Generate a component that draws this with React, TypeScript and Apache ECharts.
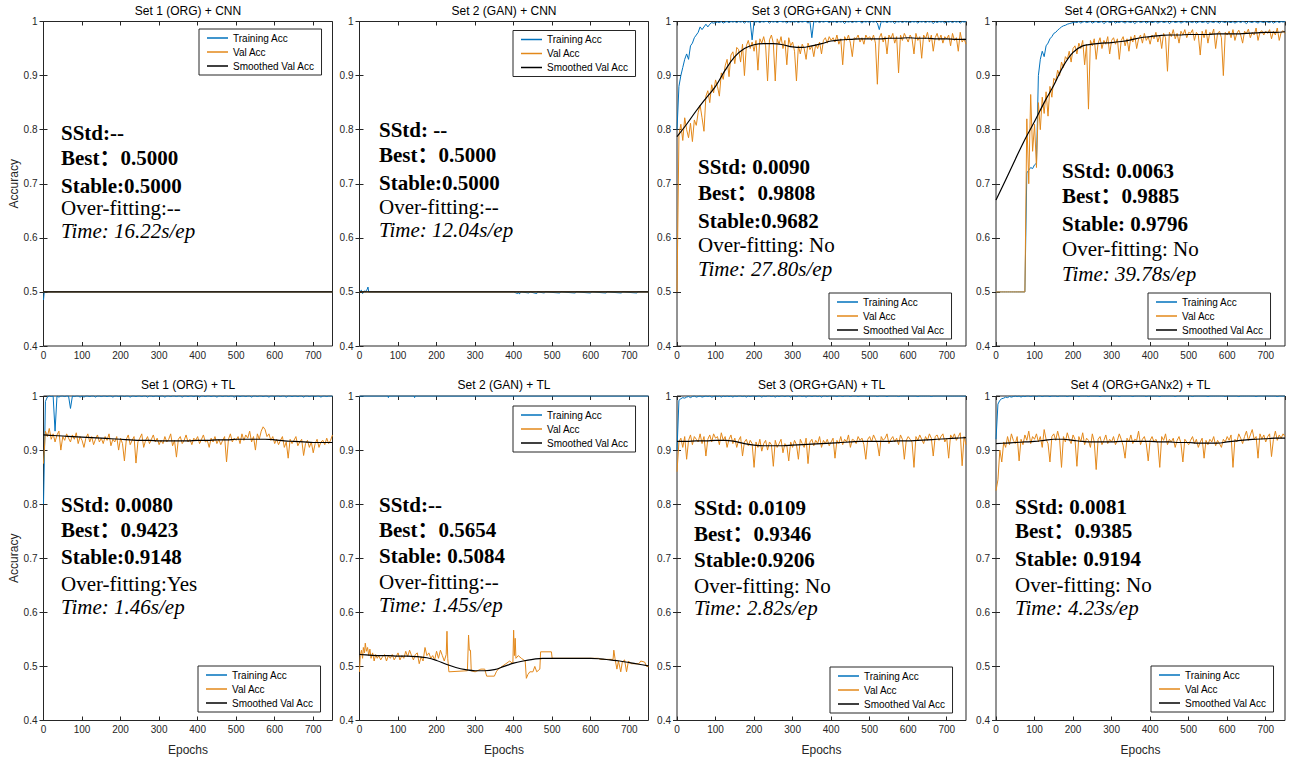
import React, { useEffect, useRef } from "react";
import * as echarts from "echarts";

// ---------------- data ----------------
const SERIES_NAMES = ["Training Acc", "Val Acc", "Smoothed Val Acc"];
const TITLES = [
  "Set 1 (ORG) + CNN",
  "Set 2 (GAN) + CNN",
  "Set 3 (ORG+GAN) + CNN",
  "Set 4 (ORG+GANx2) + CNN",
  "Set 1 (ORG) + TL",
  "Set 2 (GAN) + TL",
  "Set 3 (ORG+GAN) + TL",
  "Set 4 (ORG+GANx2) + TL",
];
const X_MIN = 0;
const X_MAX = 750;
const X_INTERVAL = 100;
const Y_MIN = 0.4;
const Y_MAX = 1;
const Y_INTERVAL = 0.1;
const DENSE_STEP = 5; // epochs between values of the dense arrays (x1000 accuracy)
const SMOOTH_STEP = 25; // epochs between values of the smoothed arrays

// Panel 1 – Set 1 (ORG) + CNN  ([epoch, accuracy x1000] points)
const P1_TRAIN = [[0, 485], [2, 500], [750, 500]];
const P1_VAL = [[0, 500], [750, 500]];
const P1_SMOOTH = [[0, 500], [750, 500]];

// Panel 2 – Set 2 (GAN) + CNN
const P2_TRAIN = [
  [0, 500], [5, 503], [8, 497], [12, 502], [15, 500], [20, 505], [22, 509], [24, 500],
  [400, 500], [410, 497], [412, 500], [415, 496], [418, 500], [440, 498], [442, 500],
  [460, 497], [462, 500], [480, 498], [482, 500], [520, 498], [522, 500], [560, 498],
  [562, 500], [600, 498], [602, 500], [640, 498], [642, 500], [680, 498], [682, 500],
  [720, 498], [722, 500], [750, 500],
];
const P2_VAL = [[0, 500], [750, 500]];
const P2_SMOOTH = [[0, 500], [750, 500]];

// Panel 3 – Set 3 (ORG+GAN) + CNN (every 5 epochs)
const P3_TRAIN = [
  800, 880, 900, 915, 930, 940, 930, 955, 960, 970, 975, 980, 990, 985, 990, 995, 990, 995, 998, 997, 998,
  999, 998, 1000, 997, 999, 1000, 998, 1000, 999, 1000, 998, 1000, 999, 1000, 997, 1000, 999, 1000, 966, 1000,
  999, 1000, 998, 1000, 999, 1000, 1000, 997, 1000, 999, 1000, 998, 1000, 1000, 999, 1000, 997, 1000, 999, 1000,
  999, 1000, 998, 1000, 999, 1000, 1000, 997, 1000, 970, 1000, 999, 1000, 998, 1000, 999, 1000, 1000, 998, 1000,
  999, 1000, 998, 1000, 999, 1000, 996, 1000, 999, 1000, 998, 1000, 999, 1000, 1000, 997, 1000, 999, 1000, 998,
  1000, 999, 1000, 997, 985, 1000, 999, 1000, 998, 1000, 999, 1000, 996, 1000, 999, 1000, 998, 1000, 999, 1000,
  998, 1000, 999, 1000, 997, 1000, 999, 1000, 998, 1000, 999, 1000, 996, 1000, 998, 1000, 999, 1000, 997, 1000,
  999, 1000, 998, 1000, 999, 1000, 997, 1000, 999, 1000,
];
const P3_VAL = [
  500, 790, 810, 780, 822, 800, 785, 812, 778, 818, 808, 832, 845, 822, 797, 862, 872, 850, 883, 868, 892,
  880, 862, 905, 893, 918, 930, 898, 938, 944, 922, 952, 948, 925, 958, 900, 955, 965, 950, 962, 945,
  965, 910, 968, 960, 972, 955, 890, 966, 975, 960, 890, 968, 958, 972, 950, 965, 920, 970, 955, 962,
  945, 890, 955, 940, 958, 950, 930, 960, 948, 955, 935, 958, 950, 962, 940, 965, 970, 960, 972, 965,
  970, 962, 975, 958, 968, 920, 972, 965, 975, 960, 935, 970, 968, 975, 962, 970, 958, 975, 968, 972,
  965, 975, 960, 884, 970, 978, 962, 972, 940, 975, 968, 978, 960, 972, 905, 975, 965, 978, 970, 962,
  975, 968, 940, 978, 965, 972, 932, 975, 968, 980, 962, 975, 945, 970, 978, 965, 975, 960, 972, 968,
  975, 955, 978, 965, 970, 945, 980, 962, 968, 958,
];
const P3_SMOOTH = [
  787, 810, 835, 858, 880, 910, 935, 950, 957, 959, 959, 957, 953, 952, 955, 959,
  964, 966, 967, 968, 968, 968, 969, 969, 970, 969, 969, 968, 968, 967, 967,
];

// Panel 4 – Set 4 (ORG+GANx2) + CNN
const P4_TRAIN = [
  500, 500, 500, 500, 500, 500, 500, 500, 500, 500, 500, 500, 500, 500, 500, 500,
  720, 725, 730, 728, 735,
  738, 900, 930, 945, 935, 955, 960, 968, 972, 978,
  980, 984, 987, 990, 992, 993, 995, 996, 997, 998,
  999, 998, 1000, 997, 999, 1000, 998, 999, 1000, 997, 999, 1000, 998, 999, 1000, 996, 999, 1000, 998, 999,
  1000, 997, 999, 998, 1000, 999, 997, 1000, 999, 998, 1000, 996, 999, 1000, 998, 999, 1000, 997, 999, 1000,
  998, 999, 1000, 997, 999, 1000, 998, 999, 1000, 996, 999, 1000, 998, 999, 1000, 997, 999, 1000, 998, 1000,
  999, 998, 1000, 997, 999, 1000, 998, 999, 1000, 996, 1000, 999, 998, 1000, 999, 997, 1000, 999, 998, 1000,
  999, 998, 1000, 997, 999, 1000, 998, 1000, 999, 996, 1000, 999, 998, 1000, 999, 997, 1000, 999, 998, 1000,
  999, 998, 1000, 997, 999, 1000, 998, 1000, 999, 1000,
];
const P4_VAL = [
  500, 500, 500, 500, 500, 500, 500, 500, 500, 500, 500, 500, 500, 500, 500, 500,
  820, 700, 865, 760, 810,
  730, 850, 800, 860, 830, 870, 825, 880, 860, 895,
  890, 910, 900, 925, 915, 935, 930, 945, 925, 950,
  955, 940, 960, 950, 965, 920, 958, 838, 965, 955, 968, 930, 960, 970, 950, 965, 958, 972, 940, 965,
  970, 958, 968, 930, 965, 972, 955, 968, 945, 972, 962, 975, 950, 968, 975, 960, 978, 965, 972, 958,
  975, 968, 980, 962, 975, 950, 978, 970, 908, 980, 972, 985, 968, 978, 960, 982, 975, 985, 970, 980,
  978, 985, 965, 980, 975, 938, 982, 970, 985, 960, 980, 975, 986, 950, 978, 982, 970, 900, 980, 975,
  982, 970, 985, 965, 978, 984, 975, 960, 982, 978, 986, 970, 980, 975, 988, 965, 980, 983, 975, 982,
  978, 985, 968, 982, 975, 988, 965, 980, 983, 978,
];
const P4_SMOOTH = [
  670, 707, 745, 782, 815, 850, 882, 918, 943, 955, 958, 960, 961, 963, 966, 970,
  972, 974, 975, 975, 976, 976, 976, 977, 977, 977, 978, 979, 980, 980, 981,
];

// Panel 5 – Set 1 (ORG) + TL
const P5_TRAIN = [
  800, 990, 998, 1000, 999, 1000, 935, 1000, 998, 1000, 1000, 999, 1000, 1000, 977, 1000, 999, 1000, 1000, 998, 1000,
  998, 1000, 1000, 999, 1000, 1000, 998, 1000, 1000, 999, 1000, 1000, 999, 1000, 1000, 998, 1000, 1000, 999, 1000,
  1000, 999, 1000, 1000, 998, 1000, 1000, 999, 1000, 1000, 999, 1000, 1000, 998, 1000, 1000, 999, 1000, 1000, 999,
  1000, 1000, 998, 1000, 1000, 999, 1000, 1000, 999, 1000, 1000, 998, 1000, 1000, 999, 1000, 1000, 999, 1000, 1000,
  998, 1000, 1000, 999, 1000, 1000, 999, 1000, 1000, 998, 1000, 1000, 999, 1000, 1000, 999, 1000, 1000, 998, 1000,
  1000, 999, 1000, 1000, 999, 1000, 1000, 998, 1000, 1000, 999, 1000, 1000, 999, 1000, 1000, 998, 1000, 1000, 999,
  1000, 1000, 999, 1000, 1000, 998, 1000, 1000, 999, 1000, 1000, 999, 1000, 1000, 998, 1000, 1000, 999, 1000, 1000,
  999, 1000, 1000, 998, 1000, 1000, 999, 1000, 1000, 1000,
];
const P5_VAL = [
  875, 935, 925, 940, 920, 930, 915, 928, 935, 900, 925, 918, 930, 922, 915, 928, 920, 932, 912, 925, 918,
  905, 922, 930, 915, 925, 910, 920, 928, 915, 922, 912, 925, 918, 930, 908, 920, 915, 925, 900, 922,
  912, 880, 920, 928, 910, 918, 925, 876, 915, 922, 930, 905, 918, 925, 912, 920, 928, 915, 922, 910,
  918, 912, 925, 915, 920, 930, 908, 918, 887, 920, 925, 912, 918, 928, 915, 920, 910, 922, 918, 925,
  912, 920, 928, 915, 918, 905, 922, 915, 925, 912, 920, 910, 918, 925, 878, 920, 930, 915, 922, 918,
  925, 912, 930, 918, 928, 922, 935, 915, 925, 900, 930, 920, 935, 943, 938, 925, 930, 918, 925, 912,
  920, 910, 918, 925, 905, 915, 885, 920, 912, 918, 925, 908, 915, 920, 890, 912, 918, 905, 915, 895,
  912, 920, 905, 915, 918, 910, 922, 912, 918, 928,
];
const P5_SMOOTH = [
  928, 927, 926, 925, 924, 923, 922, 921, 920, 919, 918, 918, 917, 917, 917, 917,
  918, 918, 919, 919, 920, 920, 920, 920, 919, 917, 916, 915, 914, 914, 914,
];

// Panel 6 – Set 2 (GAN) + TL
const P6_TRAIN = [
  [0, 998], [2, 1000], [74, 1000], [75, 997], [76, 1000], [142, 1000], [143, 997], [144, 1000], [750, 1000],
];
const P6_VAL = [
  [0, 490], [2, 520], [5, 530], [8, 515], [10, 535], [13, 525], [15, 543], [18, 528], [21, 535], [24, 520],
  [27, 532], [30, 515], [34, 525], [38, 510], [42, 522], [46, 515], [50, 520], [55, 512], [60, 518], [65, 522],
  [70, 510], [75, 520], [80, 515], [85, 522], [90, 512], [95, 518], [100, 525], [105, 512], [110, 520], [115, 515],
  [120, 528], [125, 518], [130, 530], [135, 520], [140, 512], [145, 522], [150, 525], [155, 505], [160, 518],
  [165, 510], [170, 535], [175, 520], [180, 525], [185, 515], [190, 520], [195, 512], [200, 528], [205, 515],
  [210, 530], [215, 520], [220, 510], [225, 522], [227, 565], [229, 515], [232, 490], [280, 492], [283, 558],
  [285, 530], [288, 530], [290, 492], [300, 490], [315, 495], [325, 495], [330, 482], [350, 482], [355, 490],
  [360, 495], [370, 500], [380, 505], [390, 510], [398, 505], [400, 567], [402, 520], [404, 552], [406, 515],
  [412, 520], [420, 515], [430, 510], [433, 478], [437, 485], [442, 490], [450, 490], [455, 500], [460, 490],
  [468, 495], [470, 527], [498, 527], [500, 515], [620, 515], [625, 513], [658, 513], [660, 530], [663, 515],
  [668, 495], [672, 510], [678, 490], [682, 508], [688, 512], [693, 490], [698, 510], [705, 505], [725, 505],
  [730, 510], [740, 508], [745, 500], [750, 500],
];
const P6_SMOOTH = [
  522, 521, 520, 520, 519, 519, 518, 516, 511, 504, 498, 494, 492, 492, 494, 500,
  506, 510, 513, 515, 515, 515, 515, 515, 515, 514, 512, 510, 507, 504, 501,
];

// Panel 7 – Set 3 (ORG+GAN) + TL
const P7_TRAIN = [
  900, 992, 995, 997, 996, 998, 999, 997, 999, 1000, 998, 999, 1000, 998, 999, 1000, 999, 1000, 998, 999, 1000,
  999, 1000, 998, 1000, 999, 1000, 999, 1000, 998, 1000, 999, 1000, 1000, 999, 1000, 998, 1000, 999, 1000, 1000,
  999, 1000, 1000, 998, 1000, 999, 1000, 1000, 999, 1000, 998, 1000, 999, 1000, 1000, 999, 1000, 1000, 998, 1000,
  1000, 999, 1000, 1000, 999, 1000, 998, 1000, 1000, 999, 1000, 1000, 999, 1000, 998, 1000, 1000, 999, 1000, 1000,
  1000, 1000, 999, 1000, 1000, 999, 1000, 1000, 1000, 999, 1000, 1000, 1000, 999, 1000, 1000, 1000, 1000, 999, 1000,
  1000, 1000, 1000, 999, 1000, 1000, 1000, 1000, 999, 1000, 1000, 1000, 1000, 1000, 999, 1000, 1000, 1000, 1000, 1000,
  1000, 1000, 1000, 1000, 999, 1000, 1000, 1000, 1000, 1000, 1000, 999, 1000, 1000, 1000, 1000, 1000, 1000, 1000, 1000,
  1000, 1000, 1000, 1000, 1000, 1000, 1000, 1000, 1000, 1000,
];
const P7_VAL = [
  860, 915, 922, 905, 925, 883, 918, 928, 910, 925, 920, 915, 930, 912, 925, 889, 920, 928, 915, 930, 922,
  925, 910, 932, 918, 925, 905, 920, 928, 912, 922, 905, 918, 925, 889, 915, 920, 908, 918, 912, 868,
  915, 905, 920, 898, 912, 918, 900, 915, 910, 870, 918, 905, 912, 920, 895, 912, 908, 880, 915, 905,
  918, 910, 883, 920, 912, 905, 922, 875, 915, 920, 908, 918, 912, 925, 905, 918, 912, 920, 908, 915,
  922, 885, 918, 912, 925, 910, 920, 915, 928, 905, 920, 918, 912, 925, 918, 922, 910, 883, 920, 925,
  915, 928, 920, 912, 889, 925, 918, 922, 930, 912, 920, 925, 915, 922, 910, 928, 920, 883, 918, 925,
  920, 915, 868, 925, 918, 928, 920, 912, 925, 918, 930, 922, 889, 925, 928, 918, 925, 930, 915, 922,
  885, 928, 922, 930, 918, 925, 932, 871, 925, 910,
];
const P7_SMOOTH = [
  916, 916, 917, 917, 918, 918, 916, 912, 909, 908, 908, 908, 909, 910, 911, 912,
  913, 914, 915, 916, 916, 916, 916, 917, 917, 918, 919, 920, 921, 922, 923,
];

// Panel 8 – Set 4 (ORG+GANx2) + TL
const P8_TRAIN = [
  920, 985, 992, 995, 996, 998, 997, 999, 998, 999, 1000, 999, 1000, 998, 1000, 999, 1000, 1000, 999, 1000, 1000,
  999, 1000, 1000, 999, 1000, 1000, 1000, 999, 1000, 1000, 1000, 999, 1000, 1000, 1000, 1000, 999, 1000, 1000, 1000,
  1000, 1000, 999, 1000, 1000, 1000, 1000, 999, 1000, 1000, 1000, 1000, 1000, 999, 1000, 1000, 1000, 1000, 1000, 1000,
  1000, 1000, 1000, 999, 1000, 1000, 1000, 1000, 1000, 1000, 999, 1000, 1000, 1000, 1000, 1000, 1000, 999, 1000, 1000,
  1000, 1000, 1000, 1000, 999, 1000, 1000, 1000, 1000, 1000, 1000, 1000, 999, 1000, 1000, 1000, 1000, 1000, 1000, 1000,
  1000, 999, 1000, 1000, 1000, 1000, 1000, 1000, 1000, 999, 1000, 1000, 1000, 1000, 1000, 1000, 1000, 1000, 999, 1000,
  1000, 1000, 1000, 1000, 1000, 999, 1000, 1000, 1000, 1000, 1000, 1000, 1000, 1000, 999, 1000, 1000, 1000, 1000, 1000,
  1000, 1000, 1000, 1000, 1000, 999, 1000, 1000, 1000, 1000,
];
const P8_VAL = [
  825, 845, 900, 878, 915, 905, 925, 910, 930, 918, 912, 925, 880, 920, 910, 928, 918, 935, 912, 925, 920,
  930, 915, 925, 905, 938, 920, 912, 878, 925, 930, 918, 935, 920, 868, 925, 915, 932, 920, 912, 928,
  920, 870, 925, 915, 932, 910, 922, 918, 905, 930, 915, 864, 920, 925, 910, 918, 928, 912, 920, 915,
  925, 910, 918, 930, 920, 908, 885, 922, 915, 928, 912, 920, 918, 935, 910, 920, 925, 912, 880, 918,
  925, 915, 920, 912, 868, 925, 918, 930, 910, 920, 915, 922, 905, 918, 925, 912, 878, 920, 915, 910,
  918, 925, 912, 920, 905, 915, 922, 885, 918, 910, 920, 915, 925, 908, 918, 912, 905, 920, 915, 925,
  918, 928, 868, 920, 915, 930, 922, 912, 925, 935, 918, 928, 938, 920, 925, 885, 930, 920, 928, 915,
  925, 930, 888, 920, 935, 918, 928, 922, 930, 925,
];
const P8_SMOOTH = [
  912, 913, 914, 915, 916, 918, 920, 920, 918, 916, 915, 915, 915, 916, 916, 916,
  916, 915, 915, 914, 914, 913, 913, 913, 915, 917, 919, 920, 921, 922, 922,
];

// annotation text per panel
const NOTES = [
  ["SStd:--", "Best：0.5000", "Stable:0.5000", "Over-fitting:--", "Time: 16.22s/ep"],
  ["SStd: --", "Best：0.5000", "Stable:0.5000", "Over-fitting:--", "Time: 12.04s/ep"],
  ["SStd: 0.0090", "Best：0.9808", "Stable:0.9682", "Over-fitting: No", "Time: 27.80s/ep"],
  ["SStd: 0.0063", "Best：0.9885", "Stable: 0.9796", "Over-fitting: No", "Time: 39.78s/ep"],
  ["SStd: 0.0080", "Best：0.9423", "Stable:0.9148", "Over-fitting:Yes", "Time: 1.46s/ep"],
  ["SStd:--", "Best：0.5654", "Stable: 0.5084", "Over-fitting:--", "Time: 1.45s/ep"],
  ["SStd: 0.0109", "Best：0.9346", "Stable:0.9206", "Over-fitting: No", "Time: 2.82s/ep"],
  ["SStd: 0.0081", "Best：0.9385", "Stable: 0.9194", "Over-fitting: No", "Time: 4.23s/ep"],
];
const Y_LABEL = "Accuracy";
const X_LABEL = "Epochs";

// ---------------- layout / style ----------------
const GRIDS = [
  { left: 43.5, top: 21.5, width: 289, height: 324.5 },
  { left: 359.5, top: 21.5, width: 289, height: 324.5 },
  { left: 677, top: 21.5, width: 289, height: 324.5 },
  { left: 996, top: 21.5, width: 289, height: 324.5 },
  { left: 43.5, top: 396, width: 289, height: 324.5 },
  { left: 359.5, top: 396, width: 289, height: 324.5 },
  { left: 677, top: 396, width: 289, height: 324.5 },
  { left: 996, top: 396, width: 289, height: 324.5 },
];
const LEGEND_POS = [
  [199, 29], [513, 30.5], [829, 293], [1148, 293],
  [198, 666], [513, 406], [830, 667], [1151, 666],
];
const NOTE_POS = [
  { x: 61, ys: [133, 158, 186, 208, 231] },
  { x: 379, ys: [130, 155, 183, 207, 230] },
  { x: 698, ys: [167, 193, 221, 245, 269] },
  { x: 1062, ys: [171, 196, 224, 249, 274] },
  { x: 61, ys: [505, 530, 557, 584, 607] },
  { x: 379, ys: [505, 530, 556, 582, 605] },
  { x: 694, ys: [508, 534, 560, 586, 608] },
  { x: 1015, ys: [507, 531, 559, 585, 608] },
];
const COLORS = ["#0072BD", "#E3881A", "#000000"];
const AXIS_COLOR = "#262626";
const SANS = '"Liberation Sans", Arial, Helvetica, sans-serif';
const SERIF = '"Liberation Serif", "Times New Roman", "Noto Sans CJK SC", serif';

const dense = (vals: number[], step: number) => vals.map((v, i) => [i * step, v / 1000]);
const pts = (p: number[][]) => p.map(([e, v]) => [e, v / 1000]);

const PANEL_DATA = [
  [pts(P1_TRAIN), pts(P1_VAL), pts(P1_SMOOTH)],
  [pts(P2_TRAIN), pts(P2_VAL), pts(P2_SMOOTH)],
  [dense(P3_TRAIN, DENSE_STEP), dense(P3_VAL, DENSE_STEP), dense(P3_SMOOTH, SMOOTH_STEP)],
  [dense(P4_TRAIN, DENSE_STEP), dense(P4_VAL, DENSE_STEP), dense(P4_SMOOTH, SMOOTH_STEP)],
  [dense(P5_TRAIN, DENSE_STEP), dense(P5_VAL, DENSE_STEP), dense(P5_SMOOTH, SMOOTH_STEP)],
  [pts(P6_TRAIN), pts(P6_VAL), dense(P6_SMOOTH, SMOOTH_STEP)],
  [dense(P7_TRAIN, DENSE_STEP), dense(P7_VAL, DENSE_STEP), dense(P7_SMOOTH, SMOOTH_STEP)],
  [dense(P8_TRAIN, DENSE_STEP), dense(P8_VAL, DENSE_STEP), dense(P8_SMOOTH, SMOOTH_STEP)],
];

function buildOption() {
  const xAxis: any[] = [];
  const yAxis: any[] = [];
  const series: any[] = [];
  const legend: any[] = [];
  const graphic: any[] = [];
  const yFmt = (v: number) => (Math.abs(v - 1) < 1e-9 ? "1" : v.toFixed(1));

  GRIDS.forEach((g, i) => {
    const base = { min: X_MIN, max: X_MAX, interval: X_INTERVAL, type: "value", gridIndex: i };
    xAxis.push({
      ...base,
      position: "bottom",
      axisLine: { show: false },
      axisTick: { inside: true, length: 4, lineStyle: { color: AXIS_COLOR } },
      axisLabel: { color: AXIS_COLOR, fontSize: 10, fontFamily: SANS, margin: 4, showMaxLabel: false },
      splitLine: { show: false },
    });
    xAxis.push({
      ...base,
      position: "top",
      axisLine: { show: false },
      axisTick: { inside: true, length: 4, lineStyle: { color: AXIS_COLOR } },
      axisLabel: { show: false },
      splitLine: { show: false },
    });
    const ybase = { min: Y_MIN, max: Y_MAX, interval: Y_INTERVAL, type: "value", gridIndex: i };
    yAxis.push({
      ...ybase,
      position: "left",
      axisLine: { show: false },
      axisTick: { inside: true, length: 4, lineStyle: { color: AXIS_COLOR } },
      axisLabel: { color: AXIS_COLOR, fontSize: 10, fontFamily: SANS, margin: 6, formatter: yFmt },
      splitLine: { show: false },
    });
    yAxis.push({
      ...ybase,
      position: "right",
      axisLine: { show: false },
      axisTick: { inside: true, length: 4, lineStyle: { color: AXIS_COLOR } },
      axisLabel: { show: false },
      splitLine: { show: false },
    });

    PANEL_DATA[i].forEach((d, k) => {
      series.push({
        type: "line",
        name: SERIES_NAMES[k],
        xAxisIndex: 2 * i,
        yAxisIndex: 2 * i,
        data: d,
        showSymbol: false,
        symbol: "none",
        smooth: k === 2 ? 0.4 : false,
        z: 2 + k,
        itemStyle: { color: COLORS[k] },
        lineStyle: { color: COLORS[k], width: k === 2 ? 1.2 : 1 },
      });
    });

    legend.push({
      left: LEGEND_POS[i][0],
      top: LEGEND_POS[i][1],
      orient: "vertical",
      selectedMode: false,
      itemWidth: 21,
      itemHeight: 1.5,
      itemGap: 2,
      padding: [3, 7, 3, 8],
      borderColor: AXIS_COLOR,
      borderWidth: 1,
      backgroundColor: "#fff",
      textStyle: { fontSize: 10, fontFamily: SANS, color: "#000", lineHeight: 12 },
      data: SERIES_NAMES.map((n) => ({ name: n, icon: "rect" })),
    });

    // title
    graphic.push({
      type: "text",
      x: g.left + g.width / 2,
      y: g.top - 11,
      style: {
        text: TITLES[i],
        fontSize: 12,
        fontFamily: SANS,
        fill: "#000",
        align: "center",
        verticalAlign: "middle",
      },
    });

    // annotations
    NOTES[i].forEach((t, j) => {
      graphic.push({
        type: "text",
        x: NOTE_POS[i].x,
        y: NOTE_POS[i].ys[j],
        z: 50,
        style: {
          text: t,
          fontSize: 21,
          lineHeight: 19,
          fontFamily: SERIF,
          fontWeight: j < 3 ? "bold" : "normal",
          fontStyle: j === 4 ? "italic" : "normal",
          fill: "#000",
          align: "left",
          verticalAlign: "middle",
        },
      });
    });

    if (i % 4 === 0) {
      graphic.push({
        type: "text",
        x: 14,
        y: g.top + g.height / 2,
        rotation: Math.PI / 2,
        style: {
          text: Y_LABEL,
          fontSize: 12,
          fontFamily: SANS,
          fill: AXIS_COLOR,
          align: "center",
          verticalAlign: "middle",
        },
      });
    }
    if (i >= 4) {
      graphic.push({
        type: "text",
        x: g.left + g.width / 2,
        y: g.top + g.height + 29,
        style: {
          text: X_LABEL,
          fontSize: 12,
          fontFamily: SANS,
          fill: AXIS_COLOR,
          align: "center",
          verticalAlign: "middle",
        },
      });
    }
  });

  return {
    animation: false,
    backgroundColor: "#fff",
    grid: GRIDS.map((g) => ({
      ...g,
      show: true,
      borderColor: AXIS_COLOR,
      borderWidth: 1,
      backgroundColor: "#fff",
      containLabel: false,
    })),
    xAxis,
    yAxis,
    legend,
    series,
    graphic,
  };
}

export default function App() {
  const ref = useRef<HTMLDivElement>(null);
  useEffect(() => {
    if (!ref.current) return;
    const chart = echarts.init(ref.current, undefined, { renderer: "svg" });
    chart.setOption(buildOption() as any);
    return () => chart.dispose();
  }, []);
  return (
    <div
      ref={ref}
      style={{ position: "fixed", left: 0, top: 0, width: 1292, height: 760, background: "#fff" }}
    />
  );
}
